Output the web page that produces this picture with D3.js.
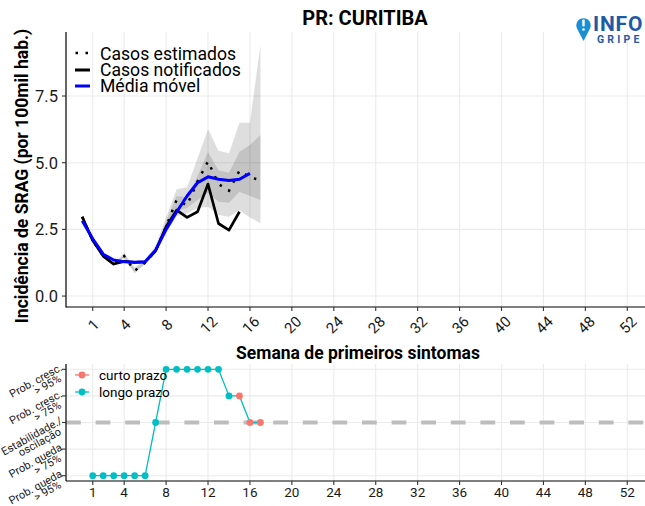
<!DOCTYPE html>
<html>
<head>
<meta charset="utf-8">
<script src="https://cdn.jsdelivr.net/npm/d3@7"></script>
<style>
  html, body { margin: 0; padding: 0; background: #fff; }
  svg { display: block; font-family: Roboto, "Noto Sans", sans-serif; }
</style>
</head>
<body>
<svg id="chart" width="645" height="506"></svg>
<script>
// Epidemiological weeks and weekly SRAG incidence (per 100k inhabitants)
const notifWeeks = [0, 1, 2, 3, 4, 5, 6, 7, 8, 9, 10, 11, 12, 13, 14, 15];
const notified   = [2.97, 2.08, 1.5, 1.2, 1.3, 1.26, 1.28, 1.7, 2.6, 3.22, 2.95, 3.16, 4.2, 2.72, 2.47, 3.16];

const estWeeks  = [0, 1, 2, 3, 4, 5, 6, 7, 8, 9, 10, 11, 12, 13, 14, 15, 16, 17];
const estimated = [2.97, 2.08, 1.5, 1.2, 1.5, 0.95, 1.25, 1.7, 2.6, 3.6, 3.4, 4.3, 5.05, 4.2, 3.95, 4.7, 4.45, 4.35];

const maWeeks = [0, 1, 2, 3, 4, 5, 6, 7, 8, 9, 10, 11, 12, 13, 14, 15, 16];
const movingAvg = [2.82, 2.15, 1.57, 1.35, 1.29, 1.27, 1.29, 1.72, 2.5, 3.15, 3.75, 4.25, 4.47, 4.38, 4.33, 4.38, 4.6];

// Nowcast uncertainty bands
const bandWeeks = [3, 4, 5, 6, 7, 8, 9, 10, 11, 12, 13, 14, 15, 16, 17];
const lower95 = [1.2, 1.42, 0.85, 1.2, 1.6, 2.35, 3.0, 3.1, 3.3, 3.35, 3.04, 2.97, 3.22, 2.95, 2.73];
const lower50 = [1.2, 1.46, 0.9, 1.22, 1.65, 2.45, 3.2, 3.3, 3.6, 3.87, 3.54, 3.5, 3.91, 3.75, 3.6];
const upper50 = [1.2, 1.55, 1.0, 1.3, 1.8, 2.8, 3.75, 3.7, 4.5, 5.4, 4.72, 4.62, 5.41, 5.66, 6.04];
const upper95 = [1.2, 1.62, 1.08, 1.35, 1.9, 2.95, 4.0, 4.08, 5.17, 6.25, 5.45, 5.35, 6.5, 6.5, 9.41];

// Trend classification (-2 .. 2)
const longWeeks  = [1, 2, 3, 4, 5, 6, 7, 8, 9, 10, 11, 12, 13, 14];
const longLevel  = [-2, -2, -2, -2, -2, -2, 0, 2, 2, 2, 2, 2, 2, 1];
const shortWeeks = [15, 16, 17];
const shortLevel = [1, 0, 0];

const xTicks = [1, 4, 8, 12, 16, 20, 24, 28, 32, 36, 40, 44, 48, 52];
const yTicks = [0, 2.5, 5, 7.5];
const trendLabels = [
  [2, "Prob. cresc.", "> 95%"],
  [1, "Prob. cresc.", "> 75%"],
  [0, "Estabilidade./", "oscilação"],
  [-1, "Prob. queda", "> 75%"],
  [-2, "Prob. queda", "> 95%"]
];

const svg = d3.select("#chart");
const W = 645;
const left = 66;

const x = d3.scaleLinear().domain([-1.55, 54.55]).range([left, 654]);
const y = d3.scaleLinear().domain([-0.41, 9.9]).range([307, 32]);
const yT = d3.scaleLinear().domain([-2.2, 2.2]).range([481, 364]);

const grid = "#ebebeb";
const ink = "#1a1a1a";

// ---------- Title ----------
svg.append("text").attr("x", 365).attr("y", 25).attr("text-anchor", "middle")
  .attr("font-size", 20).attr("font-weight", "bold").attr("fill", "#000").text("PR: CURITIBA");

// ---------- Incidence panel ----------
const incPanel = svg.append("g");
incPanel.selectAll(".vg").data(xTicks).join("line")
  .attr("x1", d => x(d)).attr("x2", d => x(d)).attr("y1", 32).attr("y2", 307)
  .attr("stroke", grid).attr("stroke-width", 1.1);
incPanel.selectAll(".hg").data(yTicks).join("line")
  .attr("x1", left).attr("x2", W).attr("y1", d => y(d)).attr("y2", d => y(d))
  .attr("stroke", grid).attr("stroke-width", 1.1);

const bandIdx = d3.range(bandWeeks.length);
const area95 = d3.area().x(i => x(bandWeeks[i])).y0(i => y(lower95[i])).y1(i => y(upper95[i]));
const area50 = d3.area().x(i => x(bandWeeks[i])).y0(i => y(lower50[i])).y1(i => y(upper50[i]));
incPanel.append("path").attr("d", area95(bandIdx)).attr("fill", "rgba(0,0,0,0.13)");
incPanel.append("path").attr("d", area50(bandIdx)).attr("fill", "rgba(0,0,0,0.12)");

const lineXY = (ws, vs) => d3.line().x(i => x(ws[i])).y(i => y(vs[i]))(d3.range(ws.length));
incPanel.append("path").attr("d", lineXY(notifWeeks, notified)).attr("fill", "none")
  .attr("stroke", "#000").attr("stroke-width", 2.7).attr("stroke-linejoin", "round");
incPanel.append("path").attr("d", lineXY(estWeeks, estimated)).attr("fill", "none")
  .attr("stroke", "#000").attr("stroke-width", 2.5).attr("stroke-dasharray", "2.5,7.5");
incPanel.append("path").attr("d", lineXY(maWeeks, movingAvg)).attr("fill", "none")
  .attr("stroke", "#0000ff").attr("stroke-width", 3).attr("stroke-linejoin", "round");

// axes
incPanel.append("line").attr("x1", left).attr("x2", left).attr("y1", 32).attr("y2", 307.5)
  .attr("stroke", "#000").attr("stroke-width", 1.2);
incPanel.append("line").attr("x1", left).attr("x2", W).attr("y1", 307).attr("y2", 307)
  .attr("stroke", "#000").attr("stroke-width", 1.2);
incPanel.selectAll(".yt").data(yTicks).join("line")
  .attr("x1", left - 4).attr("x2", left).attr("y1", d => y(d)).attr("y2", d => y(d))
  .attr("stroke", "#333").attr("stroke-width", 1.1);
incPanel.selectAll(".yl").data(yTicks).join("text")
  .attr("x", left - 8).attr("y", d => y(d) + 6).attr("text-anchor", "end")
  .attr("font-size", 16.5).attr("fill", ink).text(d3.format(".1f"));
incPanel.selectAll(".xt").data(xTicks).join("line")
  .attr("x1", d => x(d)).attr("x2", d => x(d)).attr("y1", 307).attr("y2", 311)
  .attr("stroke", "#333").attr("stroke-width", 1.1);
incPanel.selectAll(".xl").data(xTicks).join("text")
  .attr("transform", d => `translate(${x(d) + 1},${325}) rotate(-45)`)
  .attr("text-anchor", "middle").attr("dominant-baseline", "central")
  .attr("font-size", 15).attr("fill", ink).text(d => d);

svg.append("text").attr("transform", "translate(28,176) rotate(-90)")
  .attr("text-anchor", "middle").attr("font-size", 17.5).attr("font-weight", "bold")
  .attr("fill", "#000").text("Incidência de SRAG (por 100mil hab.)");
svg.append("text").attr("x", 358).attr("y", 359).attr("text-anchor", "middle")
  .attr("font-size", 17.5).attr("font-weight", "bold").attr("fill", "#000")
  .text("Semana de primeiros sintomas");

// legend
const lg = incPanel.append("g");
lg.append("line").attr("x1", 75.5).attr("x2", 92).attr("y1", 53).attr("y2", 53)
  .attr("stroke", "#000").attr("stroke-width", 2.5).attr("stroke-dasharray", "2.5,7.5");
lg.append("line").attr("x1", 75).attr("x2", 90).attr("y1", 70).attr("y2", 70)
  .attr("stroke", "#000").attr("stroke-width", 3);
lg.append("line").attr("x1", 75).attr("x2", 90).attr("y1", 86).attr("y2", 86)
  .attr("stroke", "#0000ff").attr("stroke-width", 3);
[["Casos estimados", 59.5], ["Casos notificados", 75.8], ["Média móvel", 92]].forEach(([t, yy]) => {
  lg.append("text").attr("x", 100).attr("y", yy).attr("font-size", 17.6).attr("fill", "#000").text(t);
});

// ---------- Logo ----------
const logo = svg.append("g");
logo.append("path").attr("d", "M583.5,41 L577,28.5 A7.2,7.2 0 1 1 590,28.5 Z").attr("fill", "#1b8fd4");
logo.append("rect").attr("x", 582.3).attr("y", 19.5).attr("width", 2.4).attr("height", 7).attr("rx", 1).attr("fill", "#fff");
logo.append("circle").attr("cx", 583.5).attr("cy", 29.5).attr("r", 1.3).attr("fill", "#fff");
logo.append("text").attr("x", 593).attr("y", 31).attr("font-size", 21).attr("font-weight", "bold")
  .attr("letter-spacing", 0.8).attr("fill", "#1d5aa8").text("INFO");
logo.append("text").attr("x", 597).attr("y", 42.5).attr("font-size", 10.5).attr("font-weight", "bold")
  .attr("letter-spacing", 3.2).attr("fill", "#1d5aa8").text("GRIPE");

// ---------- Trend panel ----------
const trendPanel = svg.append("g");
const levels = [-2, -1, 0, 1, 2];
trendPanel.selectAll(".vg").data(xTicks).join("line")
  .attr("x1", d => x(d)).attr("x2", d => x(d)).attr("y1", 364).attr("y2", 481)
  .attr("stroke", grid).attr("stroke-width", 1.1);
trendPanel.selectAll(".hg").data(levels).join("line")
  .attr("x1", left).attr("x2", W).attr("y1", d => yT(d)).attr("y2", d => yT(d))
  .attr("stroke", grid).attr("stroke-width", 1.1);
trendPanel.append("line").attr("x1", left).attr("x2", W).attr("y1", yT(0)).attr("y2", yT(0))
  .attr("stroke", "#bdbdbd").attr("stroke-width", 4).attr("stroke-dasharray", "14.8,14.8");

const allWeeks = longWeeks.concat(shortWeeks);
const allLevels = longLevel.concat(shortLevel);
trendPanel.append("path")
  .attr("d", d3.line().x(i => x(allWeeks[i])).y(i => yT(allLevels[i]))(d3.range(allWeeks.length)))
  .attr("fill", "none").attr("stroke", "#00BFC4").attr("stroke-width", 1.3);
trendPanel.selectAll(".lp").data(d3.range(longWeeks.length)).join("circle")
  .attr("cx", i => x(longWeeks[i])).attr("cy", i => yT(longLevel[i])).attr("r", 3.4).attr("fill", "#00BFC4");
trendPanel.selectAll(".sp").data(d3.range(shortWeeks.length)).join("circle")
  .attr("cx", i => x(shortWeeks[i])).attr("cy", i => yT(shortLevel[i])).attr("r", 3.4).attr("fill", "#F8766D");

trendPanel.append("line").attr("x1", left).attr("x2", left).attr("y1", 364).attr("y2", 481)
  .attr("stroke", "#000").attr("stroke-width", 1.2);
trendPanel.append("line").attr("x1", left).attr("x2", W).attr("y1", 481).attr("y2", 481)
  .attr("stroke", "#000").attr("stroke-width", 1.2);
trendPanel.selectAll(".yt").data(levels).join("line")
  .attr("x1", left - 4).attr("x2", left).attr("y1", d => yT(d)).attr("y2", d => yT(d))
  .attr("stroke", "#333").attr("stroke-width", 1.1);
trendPanel.selectAll(".xt").data(xTicks).join("line")
  .attr("x1", d => x(d)).attr("x2", d => x(d)).attr("y1", 481).attr("y2", 485)
  .attr("stroke", "#333").attr("stroke-width", 1.1);
trendPanel.selectAll(".xl").data(xTicks).join("text")
  .attr("x", d => x(d)).attr("y", 497).attr("text-anchor", "middle")
  .attr("font-size", 13.5).attr("fill", ink).text(d => d);

trendLabels.forEach(([lv, l1, l2]) => {
  trendPanel.append("text").attr("transform", `translate(63,${yT(lv) + 0.5}) rotate(-29)`)
    .attr("text-anchor", "end").attr("font-size", 11).attr("fill", ink).text(l1);
  trendPanel.append("text").attr("transform", `translate(62,${yT(lv) + 11.5}) rotate(-29)`)
    .attr("text-anchor", "end").attr("font-size", 11).attr("fill", ink).text(l2);
});

// legend
[["curto prazo", "#F8766D", 375], ["longo prazo", "#00BFC4", 392]].forEach(([t, c, yy]) => {
  trendPanel.append("line").attr("x1", 75).attr("x2", 89).attr("y1", yy).attr("y2", yy)
    .attr("stroke", c).attr("stroke-width", 1.3);
  trendPanel.append("circle").attr("cx", 82).attr("cy", yy).attr("r", 3.4).attr("fill", c);
  trendPanel.append("text").attr("x", 99).attr("y", yy + 4.5).attr("font-size", 13.5).attr("fill", "#000").text(t);
});
</script>
</body>
</html>
